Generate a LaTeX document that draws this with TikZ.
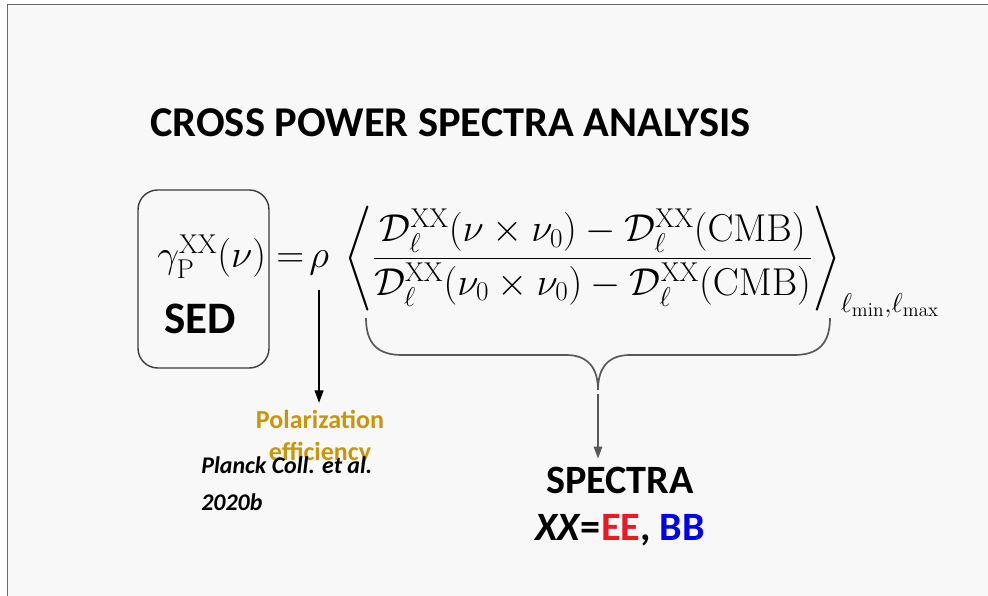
\RequirePackage{fix-cm}
\documentclass[tikz,border=0pt]{standalone}
\usepackage{amsmath}
\usepackage[no-math]{fontspec}
\setmainfont{Carlito}
\usetikzlibrary{arrows.meta}
\usetikzlibrary{positioning}
\definecolor{slidebg}{RGB}{248,248,248}
\definecolor{framegray}{RGB}{105,105,105}
\definecolor{boxgray}{RGB}{60,60,60}
\definecolor{bracegray}{RGB}{88,88,88}
\definecolor{polgold}{RGB}{200,150,10}
\definecolor{eered}{RGB}{235,25,35}
\definecolor{bbblue}{RGB}{0,0,245}
\tikzset {
  % slide heading
  heading/.style = {
    anchor = base west,
    inner sep = 0,
    font = \bfseries\fontsize{30.2}{36}\selectfont
  },
  % pieces of the formula
  formula/.style = {
    anchor = base west,
    inner sep = 0,
    font = \fontsize{27.6}{33}\selectfont
  },
  % big bold words
  bigword/.style = {
    inner sep = 0,
    align = center,
    font = \bfseries\fontsize{28.6}{33.4}\selectfont
  },
  % small notes
  polnote/.style = {
    inner sep = 0,
    align = center,
    text = polgold,
    font = \bfseries\fontsize{18.5}{22.8}\selectfont
  },
  citenote/.style = {
    inner sep = 0,
    align = left,
    font = \bfseries\itshape\fontsize{17}{26.3}\selectfont
  },
  % frame round the SED part
  sedbox/.style = {
    draw = boxgray,
    line width = 1pt,
    rounded corners = 14pt
  },
  % arrows
  pointer/.style = {
    draw = black,
    line width = 1.4pt,
    -{Triangle[length=9pt,width=6.2pt]}
  },
  flow/.style = {
    draw = bracegray,
    line width = 1.1pt,
    -{Triangle[length=8.5pt,width=6pt]}
  },
  bracepath/.style = {
    draw = bracegray,
    line width = 1.2pt
  }
}

\begin{document}
\begin{tikzpicture}[x=0.025cm, y=-0.025cm]
  \useasboundingbox (0,0) rectangle (988,596);
  \fill[white] (0,0) rectangle (988,596);
  \fill[slidebg] (7.5,4.5) rectangle (988,596);
  \draw[framegray, line width=1.1pt] (7.5,596) -- (7.5,4.5) -- (988,4.5);

  \node[heading] (title) at (150,137) {CROSS POWER SPECTRA ANALYSIS};

  % the formula
  \node[formula] (lhs) at (157,268) {$\gamma^{\mathrm{XX}}_{\mathrm{P}}(\nu)$};
  \node[formula] (eqs) at (276,268) {$=$};
  \node[formula] (rho) at (309,268) {$\rho$};
  \node[formula] (avg) at (344,268) {$\displaystyle\left\langle\frac{\mathcal{D}^{\mathrm{XX}}_{\ell}(\nu\times\nu_0)-\mathcal{D}^{\mathrm{XX}}_{\ell}(\mathrm{CMB})}{\mathcal{D}^{\mathrm{XX}}_{\ell}(\nu_0\times\nu_0)-\mathcal{D}^{\mathrm{XX}}_{\ell}(\mathrm{CMB})}\right\rangle_{\ell_{\min},\ell_{\max}}$};

  \draw[sedbox] (138,190) rectangle (269,368);
  \node[bigword, font=\bfseries\fontsize{32}{38}\selectfont, anchor=base west] (sed) at (164,334) {SED};

  \node[polnote, anchor=north] (pol) at (320,410) {Polarization\\efficiency};
  \node[citenote, anchor=north west] (cite) at (201,456) {Planck Coll. et al.\\2020b};
  \node[bigword, anchor=north] (spectra) at (620,467) {SPECTRA\\\textit{XX}=\textcolor{eered}{EE}, \textcolor{bbblue}{BB}};

  % brace under the fraction
  \coordinate (brL) at (366,318);
  \coordinate (brR) at (830,318);
  \coordinate (brtip) at (598,390);
  \draw[bracepath] (brL) .. controls +(0,26) and +(-24,0) .. (402,355)
    -- (566,355) .. controls +(22,0) and +(0,-22) .. (brtip)
    .. controls +(0,-22) and +(-22,0) .. (630,355)
    -- (794,355) .. controls +(24,0) and +(0,26) .. (brR);

  \draw[pointer, shorten <=10pt, shorten >=5pt] (rho.south) -- (rho.south |- pol.north);
  \draw[flow, shorten <=3pt, shorten >=6pt] (brtip) -- (brtip |- spectra.north);
\end{tikzpicture}
\end{document}
